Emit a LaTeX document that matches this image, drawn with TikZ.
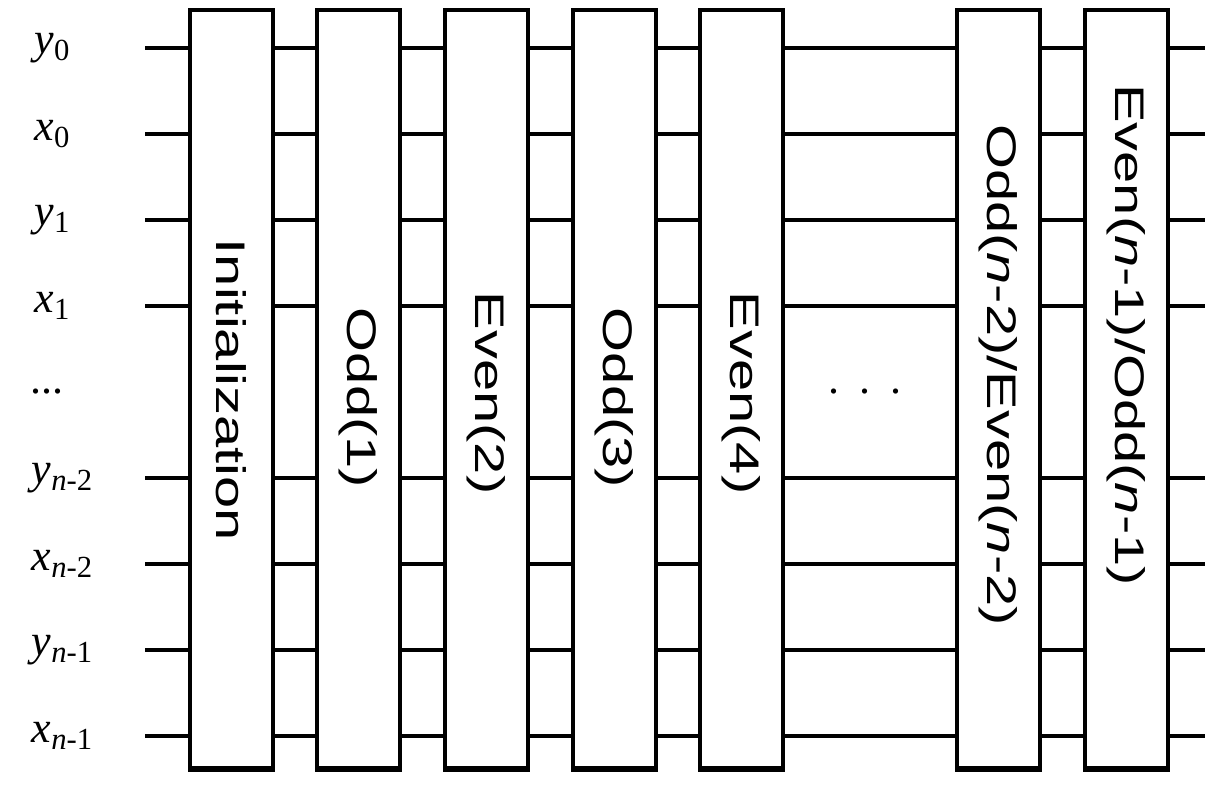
\documentclass[tikz,border=0pt]{standalone}
\usepackage{fontspec}
\setmainfont{Liberation Serif}
\newfontfamily\boxfont{Liberation Sans}
\begin{document}
\begin{tikzpicture}[x=0.75pt,y=-0.75pt,
  wire/.style={line width=2.6pt},
  stage/.style={draw,fill=white,line width=2.6pt},
  lab/.style={font=\fontsize{33}{36}\selectfont},
  btxt/.style={rotate=-90,font=\boxfont\fontsize{31}{34}\selectfont,inner sep=0pt}]
\useasboundingbox (0,0) rectangle (1230,790);
\foreach \y/\n in {48/a,134/b,220/c,306/d,478/e,564/f,650/g,736/h}{
  \coordinate (w\n l) at (145,\y); \coordinate (w\n r) at (1205,\y);
  \draw[wire] (w\n l) -- (w\n r);}
\node[lab] (l0) at (52,48) {\textit{y}\raisebox{-0.35ex}{\fontsize{23}{25}\selectfont 0}};
\node[lab] (l1) at (52,134) {\textit{x}\raisebox{-0.35ex}{\fontsize{23}{25}\selectfont 0}};
\node[lab] (l2) at (52,220) {\textit{y}\raisebox{-0.35ex}{\fontsize{23}{25}\selectfont 1}};
\node[lab] (l3) at (52,306) {\textit{x}\raisebox{-0.35ex}{\fontsize{23}{25}\selectfont 1}};
\node[lab] (l4) at (47,392) {...};
\node[lab] (l5) at (62,478) {\textit{y}\raisebox{-0.35ex}{\fontsize{23}{25}\selectfont\textit{n}-2}};
\node[lab] (l6) at (62,564) {\textit{x}\raisebox{-0.35ex}{\fontsize{23}{25}\selectfont\textit{n}-2}};
\node[lab] (l7) at (62,650) {\textit{y}\raisebox{-0.35ex}{\fontsize{23}{25}\selectfont\textit{n}-1}};
\node[lab] (l8) at (62,736) {\textit{x}\raisebox{-0.35ex}{\fontsize{23}{25}\selectfont\textit{n}-1}};
\foreach \xa/\n in {190/s1,317/s2,445/s3,573/s4,700/s5,957/s6,1085/s7}{
  \draw[stage] (\xa,10) rectangle (\xa+83,770);
  \draw[line width=4pt] (\xa-1,769) -- (\xa+84,769);
  \coordinate (\n) at (\xa+41.5,0);}
\node[btxt] (t1) at (231.5,390) {\scalebox{1.4}[1]{Initialization}};
\node[btxt] (t2) at (358.5,398) {\scalebox{1.4}[1]{Odd(1)}};
\node[btxt] (t3) at (486.5,393) {\scalebox{1.4}[1]{Even(2)}};
\node[btxt] (t4) at (614.5,398) {\scalebox{1.4}[1]{Odd(3)}};
\node[btxt] (t5) at (741.5,393) {\scalebox{1.4}[1]{Even(4)}};
\node[btxt] (t6) at (998.5,375) {\scalebox{1.4}[1]{Odd(\textit{n}-2)/Even(\textit{n}-2)}};
\node[btxt] (t7) at (1126.5,335) {\scalebox{1.4}[1]{Even(\textit{n}-1)/Odd(\textit{n}-1)}};
\node[font=\fontsize{33}{36}\selectfont] (dots) at (865,392) {.\hspace{0.45em}.\hspace{0.45em}.};
\end{tikzpicture}
\end{document}
